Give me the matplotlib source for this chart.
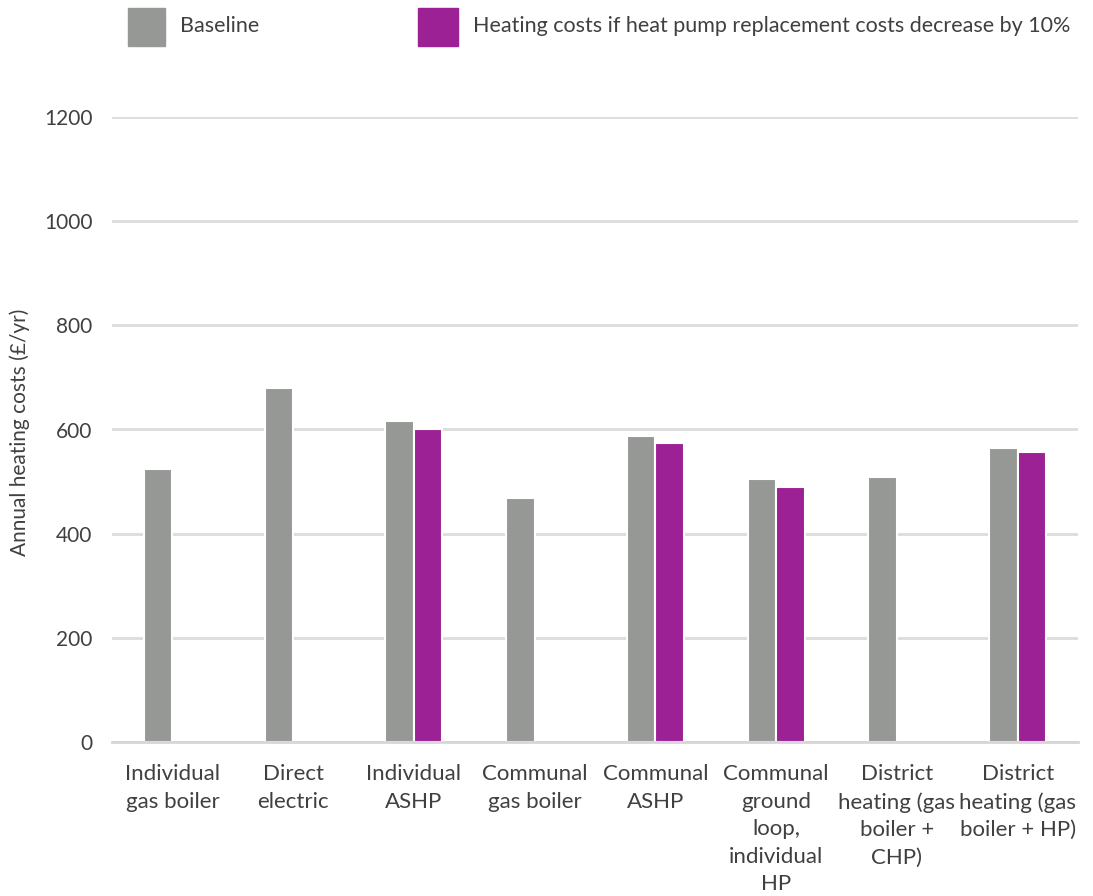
import numpy as np
import matplotlib
matplotlib.use("Agg")
import matplotlib.pyplot as plt
from matplotlib.patches import Rectangle

#================= Data =================

categories = ["Individual\ngas boiler", "Direct\nelectric", "Individual\nASHP",
              "Communal\ngas boiler", "Communal\nASHP",
              "Communal\nground\nloop,\nindividual\nHP",
              "District\nheating (gas\nboiler +\nCHP)",
              "District\nheating (gas\nboiler + HP)"]
baseline = [524, 679, 617, 469, 587, 504, 509, 565]
reduced = [np.nan, np.nan, 600, np.nan, 574, 490, np.nan, 557]

series_names = ["Baseline", "Heating costs if heat pump replacement costs decrease by 10%"]
yticks = [0, 200, 400, 600, 800, 1000, 1200]

grey = "#959895"
purple = "#9b2194"
txt = "#404040"

#================= Plot =================

plt.rcParams['font.family'] = ['Lato', 'DejaVu Sans']

fig = plt.figure(figsize=(10.93, 8.96), dpi=100)
ax = fig.add_axes([112/1093, 1 - 742/896, (1078 - 112)/1093, (742 - 117)/896])

x = np.arange(len(categories))
width = 0.235

ax.bar(x - width/2, baseline, width, color=grey, edgecolor="white", linewidth=1.5, zorder=3)
ax.bar(x + width/2, reduced, width, color=purple, edgecolor="white", linewidth=1.5, zorder=3)

ax.set_xlim(-0.5, len(categories) - 0.5)
ax.set_ylim(0, 1200)
ax.set_yticks(yticks)
ax.set_yticklabels([str(v) for v in yticks], fontsize=15, color=txt)
ax.set_xticks(x)
ax.set_xticklabels(categories, fontsize=16, color=txt, linespacing=1.47)
ax.tick_params(axis="y", length=0, pad=14)
ax.tick_params(axis="x", length=0, pad=16)

ax.grid(axis="y", color="#dcdcdc", linewidth=2, zorder=0)
for s in ["top", "right", "left"]:
    ax.spines[s].set_visible(False)
ax.spines["bottom"].set_color("#d6d6d6")
ax.spines["bottom"].set_linewidth(2)
ax.spines["bottom"].set_zorder(4)

fig.text(20/1093, 1 - 432/896, "Annual heating costs (£/yr)", rotation=90,
         ha="center", va="center", fontsize=15, color=txt)

#---- Legend (drawn by hand to match placement) ----
fig.add_artist(Rectangle((128/1093, 1 - 46/896), 37/1093, 38/896,
                         transform=fig.transFigure, color=grey))
fig.add_artist(Rectangle((418/1093, 1 - 46/896), 40/1093, 38/896,
                         transform=fig.transFigure, color=purple))
fig.text(180/1093, 1 - 26/896, series_names[0], ha="left", va="center",
         fontsize=15.5, color=txt)
fig.text(473/1093, 1 - 26/896, series_names[1], ha="left", va="center",
         fontsize=15.5, color=txt)

fig.savefig("out.png", dpi=100)
